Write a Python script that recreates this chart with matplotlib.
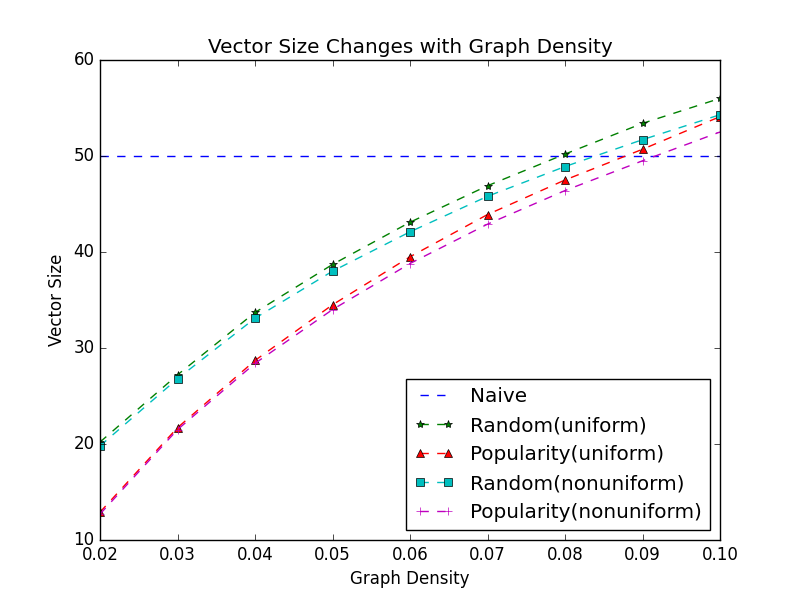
import numpy as np
import matplotlib
matplotlib.use('Agg')
import matplotlib.pyplot as plt

plt.style.use('classic')

density = [0.02, 0.03, 0.04, 0.05, 0.06, 0.07, 0.08, 0.09, 0.10]
naive = [50] * len(density)
rand_uni = [20.2, 27.2, 33.7, 38.7, 43.1, 46.9, 50.2, 53.4, 56.0]
pop_uni = [12.9, 21.7, 28.7, 34.5, 39.5, 43.9, 47.5, 50.7, 54.1]
rand_nonuni = [19.8, 26.8, 33.1, 38.0, 42.1, 45.8, 48.9, 51.7, 54.3]
pop_nonuni = [12.7, 21.5, 28.4, 34.0, 38.8, 42.9, 46.4, 49.5, 52.5]

fig = plt.figure(figsize=(8, 6), dpi=100)
plt.plot(density, naive, 'b--', label='Naive')
plt.plot(density, rand_uni, 'g*--', label='Random(uniform)')
plt.plot(density, pop_uni, 'r^--', label='Popularity(uniform)')
plt.plot(density, rand_nonuni, 'cs--', label='Random(nonuniform)')
plt.plot(density, pop_nonuni, 'm+--', label='Popularity(nonuniform)')

plt.xlim(0.02, 0.10)
plt.ylim(10, 60)
plt.title('Vector Size Changes with Graph Density')
plt.xlabel('Graph Density')
plt.ylabel('Vector Size')
plt.legend(loc='lower right')
plt.savefig('out.png', dpi=100)
